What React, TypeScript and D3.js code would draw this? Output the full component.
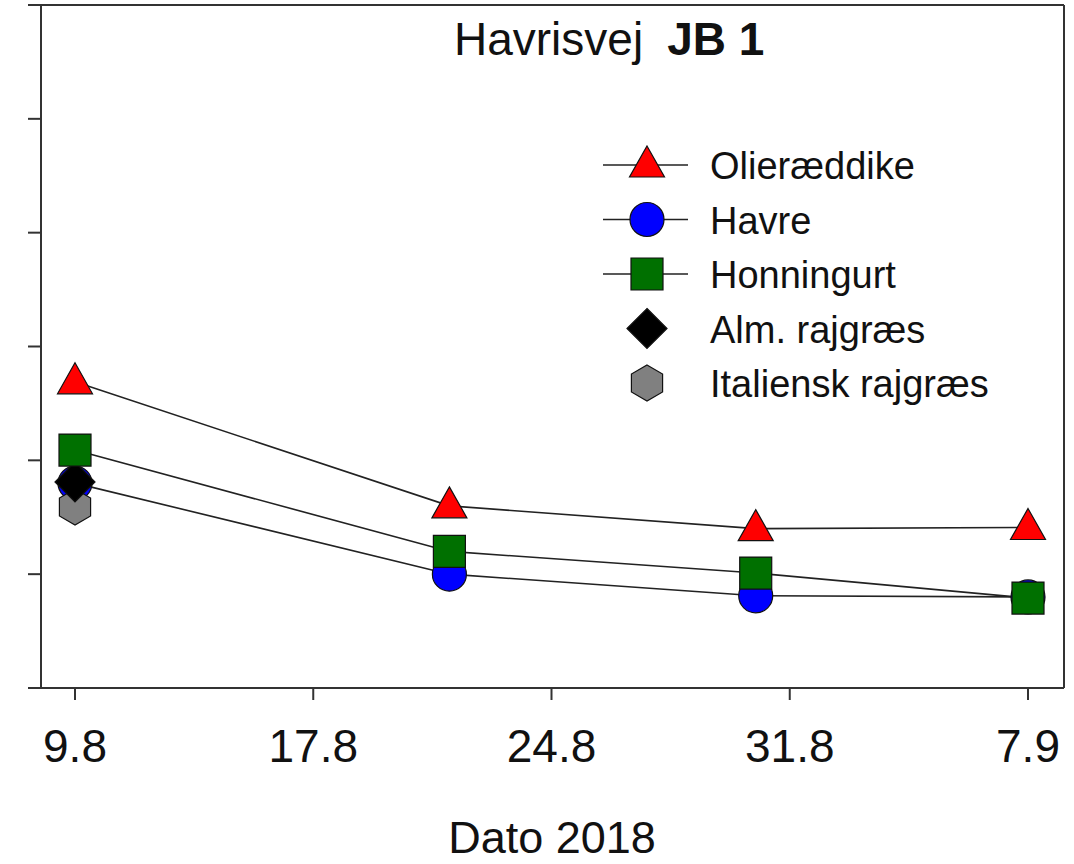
import React, { useEffect, useRef } from 'react';
import * as d3 from 'd3';

// x positions are in days from the first sampling, ticks are weekly
const dateTicks = [0, 7, 14, 21, 28];
const dateLabels = ['9.8', '17.8', '24.8', '31.8', '7.9'];
const sampleDays = [0, 11, 20, 28];

const olieraeddike = [2.69, 1.6, 1.4, 1.41];
const havre = [1.8, 1.0, 0.81, 0.8];
const honningurt = [2.09, 1.2, 1.01, 0.79];

const almRajgraesDays = [0];
const almRajgraes = [1.81];
const italienskDays = [0];
const italienskRajgraes = [1.59];

const yTicks = [1, 2, 3, 4, 5];

type Shape = 'triangle' | 'circle' | 'square' | 'diamond' | 'hexagon';

const shapePath = (shape: Shape): string => {
  switch (shape) {
    case 'triangle':
      return 'M0,-19L17.5,12L-17.5,12Z';
    case 'square':
      return 'M-16,-16H16V16H-16Z';
    case 'diamond':
      return 'M0,-20L20,0L0,20L-20,0Z';
    case 'hexagon': {
      const pts = d3.range(6).map((i) => {
        const a = (Math.PI / 3) * i - Math.PI / 2;
        return [Math.cos(a) * 18, Math.sin(a) * 18];
      });
      return 'M' + pts.map((p) => p.join(',')).join('L') + 'Z';
    }
    default:
      return d3.symbol(d3.symbolCircle, Math.PI * 17 * 17)() || '';
  }
};

const series = [
  { name: 'Olieræddike', days: sampleDays, values: olieraeddike, color: '#ff0000', shape: 'triangle' as Shape, line: true },
  { name: 'Havre', days: sampleDays, values: havre, color: '#0000ff', shape: 'circle' as Shape, line: true },
  { name: 'Honningurt', days: sampleDays, values: honningurt, color: '#007000', shape: 'square' as Shape, line: true },
  { name: 'Alm. rajgræs', days: almRajgraesDays, values: almRajgraes, color: '#000000', shape: 'diamond' as Shape, line: false },
  { name: 'Italiensk rajgræs', days: italienskDays, values: italienskRajgraes, color: '#808080', shape: 'hexagon' as Shape, line: false },
];

// marker drawing order (back to front)
const markerOrder = ['Havre', 'Italiensk rajgræs', 'Alm. rajgræs', 'Honningurt', 'Olieræddike'];

const App: React.FC = () => {
  const svgRef = useRef<SVGSVGElement>(null);

  useEffect(() => {
    if (!svgRef.current) return;
    const svg = d3.select(svgRef.current);
    svg.selectAll('*').remove();

    const left = 41;
    const right = 1064;
    const top = 5;
    const bottom = 688;
    const font = '"Liberation Sans", Arial, sans-serif';

    const x = d3.scaleLinear().domain([0, 28]).range([75, 1028]);
    const y = d3.scaleLinear().domain([0, 6]).range([bottom, top]);

    // frame
    const frame = svg.append('g').attr('stroke', '#333').attr('stroke-width', 2).attr('fill', 'none');
    frame.append('line').attr('x1', 28).attr('x2', right).attr('y1', top).attr('y2', top);
    frame.append('line').attr('x1', 28).attr('x2', right).attr('y1', bottom).attr('y2', bottom);
    frame.append('line').attr('x1', left).attr('x2', left).attr('y1', top).attr('y2', bottom);
    frame.append('line').attr('x1', right).attr('x2', right).attr('y1', top).attr('y2', bottom);

    frame
      .selectAll('line.ytick')
      .data(yTicks)
      .enter()
      .append('line')
      .attr('class', 'ytick')
      .attr('x1', 28)
      .attr('x2', left)
      .attr('y1', (d) => y(d))
      .attr('y2', (d) => y(d));

    frame
      .selectAll('line.xtick')
      .data(dateTicks)
      .enter()
      .append('line')
      .attr('class', 'xtick')
      .attr('x1', (d) => x(d))
      .attr('x2', (d) => x(d))
      .attr('y1', bottom)
      .attr('y2', bottom + 12);

    svg
      .selectAll('text.xlabel')
      .data(dateTicks)
      .enter()
      .append('text')
      .attr('class', 'xlabel')
      .attr('x', (d) => x(d))
      .attr('y', 762)
      .attr('text-anchor', 'middle')
      .attr('font-family', font)
      .attr('font-size', 46)
      .attr('fill', '#111')
      .text((d, i) => dateLabels[i]);

    svg
      .append('text')
      .attr('x', 552)
      .attr('y', 853)
      .attr('text-anchor', 'middle')
      .attr('font-family', font)
      .attr('font-size', 45)
      .attr('fill', '#111')
      .text('Dato 2018');

    const title = svg
      .append('text')
      .attr('x', 454)
      .attr('y', 55)
      .attr('font-family', font)
      .attr('font-size', 46)
      .attr('fill', '#111');
    title.append('tspan').text('Havrisvej');
    title.append('tspan').attr('dx', 24).attr('font-weight', 'bold').text('JB 1');

    // lines
    const lineGen = d3
      .line<[number, number]>()
      .x((d) => x(d[0]))
      .y((d) => y(d[1]));

    series
      .filter((s) => s.line)
      .forEach((s) => {
        svg
          .append('path')
          .attr('d', lineGen(s.days.map((d, i) => [d, s.values[i]] as [number, number])))
          .attr('fill', 'none')
          .attr('stroke', '#222')
          .attr('stroke-width', 1.6);
      });

    // markers
    markerOrder.forEach((name) => {
      const s = series.find((d) => d.name === name)!;
      svg
        .selectAll(null)
        .data(s.days.map((d, i) => [d, s.values[i]]))
        .enter()
        .append('path')
        .attr('transform', (d) => `translate(${x(d[0])},${y(d[1])})`)
        .attr('d', shapePath(s.shape))
        .attr('fill', s.color)
        .attr('stroke', '#111')
        .attr('stroke-width', 1.2);
    });

    // legend
    const legend = svg.append('g').attr('transform', 'translate(647,165)');
    const rowH = 54.5;
    series.forEach((s, i) => {
      const g = legend.append('g').attr('transform', `translate(0,${i * rowH})`);
      if (s.line) {
        g.append('line').attr('x1', -44).attr('x2', 41).attr('stroke', '#222').attr('stroke-width', 1.6);
      }
      g.append('path')
        .attr('d', shapePath(s.shape))
        .attr('fill', s.color)
        .attr('stroke', '#111')
        .attr('stroke-width', 1.2);
      g.append('text')
        .attr('x', 63)
        .attr('y', 14)
        .attr('font-family', font)
        .attr('font-size', 38)
        .attr('fill', '#111')
        .text(s.name);
    });
  }, []);

  return (
    <svg
      ref={svgRef}
      width={1074}
      height={864}
      style={{ position: 'absolute', left: 0, top: 0, background: '#fff' }}
    ></svg>
  );
};

export default App;
